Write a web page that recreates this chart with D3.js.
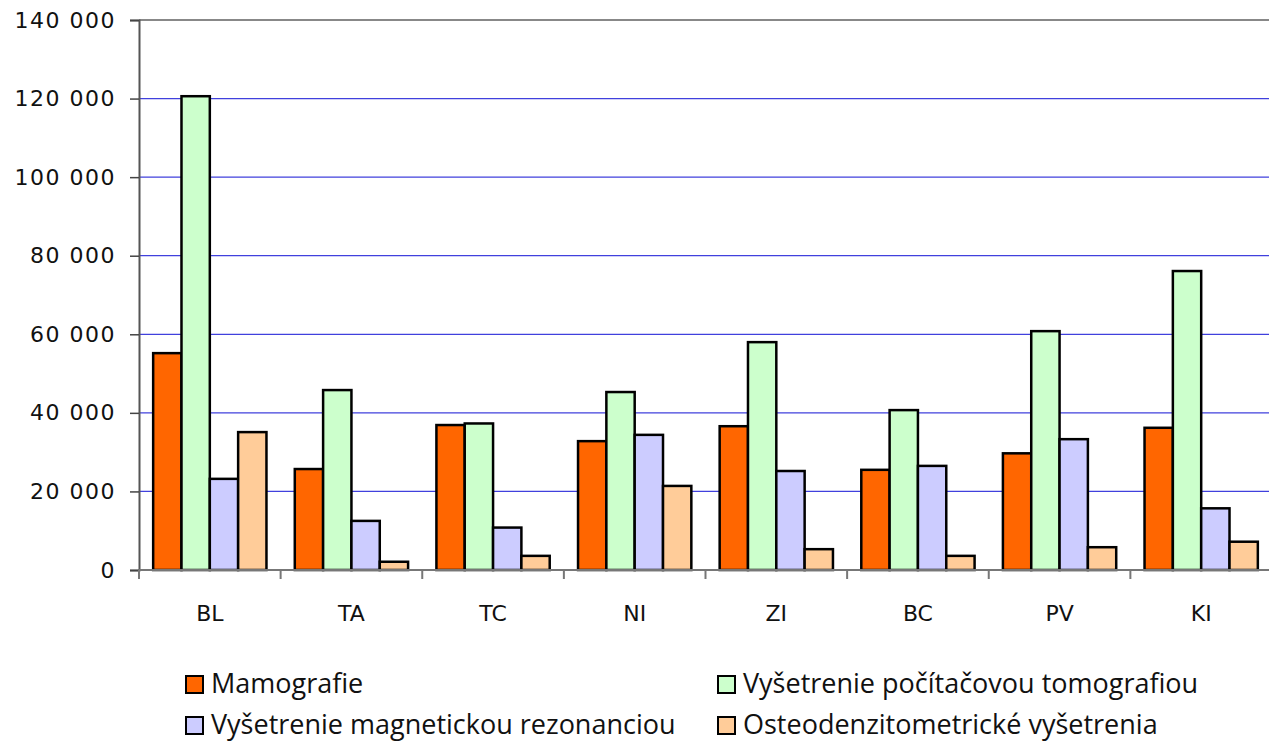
<!DOCTYPE html>
<html>
<head>
<meta charset="utf-8">
<script src="https://cdn.jsdelivr.net/npm/d3@7"></script>
<style>
  body { margin: 0; background: #fff; }
  svg { display: block; }
</style>
</head>
<body>
<div id="chart"></div>
<script>
// data
let regions = ["BL", "TA", "TC", "NI", "ZI", "BC", "PV", "KI"];
let seriesNames = ["Mamografie", "Vyšetrenie počítačovou tomografiou",
                   "Vyšetrenie magnetickou rezonanciou", "Osteodenzitometrické vyšetrenia"];
let mamografie = [55200, 25700, 36900, 32800, 36600, 25500, 29700, 36200];
let tomografia = [120600, 45800, 37300, 45300, 58000, 40700, 60800, 76100];
let rezonancia = [23200, 12500, 10800, 34400, 25200, 26500, 33300, 15700];
let osteo = [35100, 2100, 3600, 21400, 5300, 3600, 5800, 7200];
let yTicks = [0, 20000, 40000, 60000, 80000, 100000, 120000, 140000];
let colors = ["#ff6600", "#ccffcc", "#ccccff", "#ffcc99"];

let svgWidth = 1269;
let svgHeight = 742;

let svg = d3.select("#chart")
    .append("svg")
    .attr("width", svgWidth)
    .attr("height", svgHeight);

// plot area
let plotLeft = 139, plotRight = 1272, plotTop = 20, plotBottom = 570;

let x0 = d3.scaleBand().domain(regions).range([plotLeft, plotRight]).paddingInner(0.2).paddingOuter(0.1);
let x1 = d3.scaleBand().domain(d3.range(4)).range([0, x0.bandwidth()]);
let y = d3.scaleLinear().domain([0, 140000]).range([plotBottom, plotTop]);

let fmt = d => d3.format(",")(d).replace(/,/g, " ");

// gridlines
svg.append("g")
    .selectAll("line")
    .data(yTicks.filter(d => d > 0 && d < 140000))
    .enter()
    .append("line")
    .attr("x1", plotLeft).attr("x2", svgWidth)
    .attr("y1", d => y(d)).attr("y2", d => y(d))
    .attr("stroke", "#4040dd")
    .attr("stroke-width", 1.2);

// top border line
svg.append("line")
    .attr("x1", plotLeft).attr("x2", svgWidth)
    .attr("y1", y(140000)).attr("y2", y(140000))
    .attr("stroke", "#888")
    .attr("stroke-width", 2);

// bars
let allSeries = [mamografie, tomografia, rezonancia, osteo];
let groups = svg.append("g")
    .selectAll("g")
    .data(regions)
    .enter()
    .append("g")
    .attr("transform", d => `translate(${x0(d)},0)`);

groups.selectAll("rect")
    .data((d, i) => allSeries.map((s, k) => ({ k: k, v: s[i] })))
    .enter()
    .append("rect")
    .attr("x", d => x1(d.k))
    .attr("y", d => y(d.v))
    .attr("width", x1.bandwidth())
    .attr("height", d => plotBottom - y(d.v))
    .attr("fill", d => colors[d.k])
    .attr("stroke", "#000")
    .attr("stroke-width", 2.5);

// y axis
let leftAxis = d3.axisLeft(y).tickValues(yTicks).tickSize(9).tickPadding(14).tickFormat(fmt);
let yAxis = svg.append("g")
    .attr("transform", `translate(${plotLeft},0)`)
    .call(leftAxis);
yAxis.select(".domain").attr("stroke", "#555").attr("stroke-width", 2);
yAxis.selectAll(".tick line").attr("stroke", "#444").attr("stroke-width", 1.5);
yAxis.selectAll("text")
    .attr("font-family", "'DejaVu Sans', sans-serif")
    .attr("font-size", 22)
    .attr("letter-spacing", 1.5)
    .attr("fill", "#111");

// x axis
let ticksX = regions.map(d => x0(d) - x0.step() * x0.paddingInner() / 2).concat([plotRight]);
let xAxisG = svg.append("g");
xAxisG.append("line")
    .attr("x1", plotLeft).attr("x2", svgWidth)
    .attr("y1", plotBottom).attr("y2", plotBottom)
    .attr("stroke", "#777").attr("stroke-width", 2);
xAxisG.selectAll(".tk")
    .data(ticksX)
    .enter()
    .append("line")
    .attr("class", "tk")
    .attr("x1", d => d).attr("x2", d => d)
    .attr("y1", plotBottom).attr("y2", plotBottom + 9)
    .attr("stroke", "#777").attr("stroke-width", 2);
xAxisG.selectAll("text")
    .data(regions)
    .enter()
    .append("text")
    .attr("x", d => x0(d) + x0.bandwidth() / 2)
    .attr("y", 621)
    .attr("text-anchor", "middle")
    .attr("font-family", "'DejaVu Sans', sans-serif")
    .attr("font-size", 22)
    .attr("fill", "#111")
    .text(d => d);

// legend
let legendPos = [[186, 676], [718, 676], [186, 717], [718, 717]];
let legend = svg.append("g")
    .selectAll("g")
    .data(seriesNames)
    .enter()
    .append("g")
    .attr("transform", (d, i) => `translate(${legendPos[i][0]},${legendPos[i][1]})`);

legend.append("rect")
    .attr("width", 17).attr("height", 17)
    .attr("fill", (d, i) => colors[i])
    .attr("stroke", "#000")
    .attr("stroke-width", 2);

legend.append("text")
    .attr("x", 25)
    .attr("y", 17)
    .attr("font-family", "'Open Sans', sans-serif")
    .attr("font-size", 27)
    .attr("fill", "#111")
    .text(d => d);
</script>
</body>
</html>
